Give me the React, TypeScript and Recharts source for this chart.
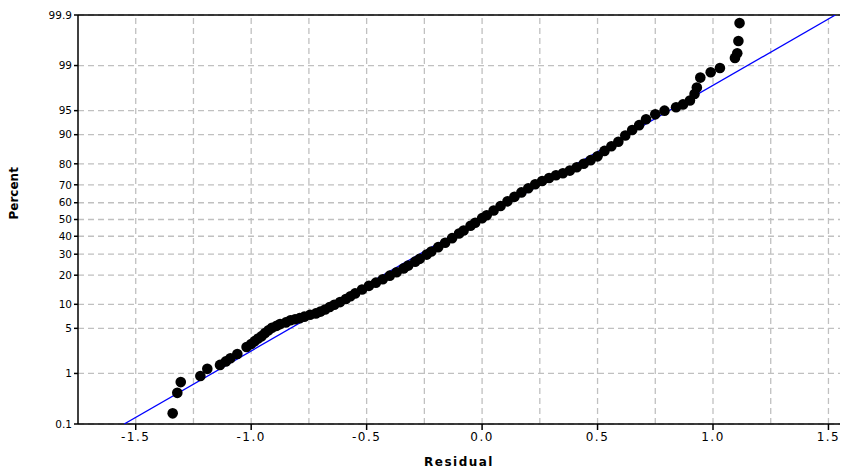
import React from 'react';
import { ScatterChart, Scatter, XAxis, YAxis, ReferenceLine } from 'recharts';

// residual / cumulative percent
const residuals = [
  -1.34, -1.32, -1.305, -1.22, -1.19, -1.135, -1.11, -1.09, -1.06, -1.02, -1.0, -0.985, -0.97, -0.955,
  -0.94, -0.925, -0.91, -0.89, -0.875, -0.85, -0.83, -0.81, -0.79, -0.77, -0.745, -0.72, -0.7, -0.68,
  -0.66, -0.64, -0.615, -0.59, -0.57, -0.55, -0.52, -0.49, -0.46, -0.43, -0.4, -0.37, -0.34, -0.32,
  -0.29, -0.27, -0.24, -0.22, -0.19, -0.16, -0.13, -0.1, -0.08, -0.05, -0.03, 0.0, 0.02, 0.05, 0.08,
  0.11, 0.14, 0.17, 0.2, 0.23, 0.26, 0.29, 0.32, 0.35, 0.38, 0.41, 0.44, 0.47, 0.5, 0.53, 0.56, 0.59,
  0.62, 0.65, 0.68, 0.71, 0.75, 0.79, 0.84, 0.87, 0.9, 0.92, 0.93, 0.945, 0.99, 1.03, 1.095, 1.105,
  1.11, 1.115,
];
const percents = [
  0.17, 0.44, 0.7, 0.9, 1.2, 1.4, 1.6, 1.8, 2.1, 2.7, 3.0, 3.3, 3.6, 3.9, 4.3, 4.7, 5.1, 5.4, 5.7,
  6.0, 6.4, 6.6, 6.8, 7.1, 7.5, 7.8, 8.2, 8.7, 9.3, 9.9, 10.6, 11.5, 12.3, 13.2, 14.5, 15.8, 17.0,
  18.3, 19.8, 21.3, 23.0, 24.3, 26.2, 27.6, 29.8, 31.4, 33.8, 36.3, 38.9, 41.6, 43.4, 46.2, 48.0,
  50.8, 52.6, 55.4, 58.1, 60.8, 63.4, 65.9, 68.2, 70.3, 72.0, 73.5, 74.8, 75.8, 77.0, 78.5, 80.0,
  81.5, 83.0, 85.0, 86.6, 88.0, 89.8, 91.2, 92.3, 93.5, 94.4, 95.0, 95.5, 95.9, 96.4, 97.1, 97.7,
  98.4, 98.7, 98.9, 99.27, 99.4, 99.65, 99.85,
];
const fitResiduals = [-1.55, 1.53];
const fitPercents = [0.1, 99.9];

const percentTicks = [0.1, 1, 5, 10, 20, 30, 40, 50, 60, 70, 80, 90, 95, 99, 99.9];
const residualTicks = [-1.5, -1.0, -0.5, 0.0, 0.5, 1.0, 1.5];
const residualGrid = [-1.5, -1.25, -1.0, -0.75, -0.5, -0.25, 0.0, 0.25, 0.5, 0.75, 1.0, 1.25, 1.5];

// inverse standard normal (Acklam) for the probability axis
function probit(pct: number) {
  const p = pct / 100;
  const a = [-39.6968302866538, 220.946098424521, -275.928510446969, 138.357751867269, -30.6647980661472, 2.50662827745924];
  const b = [-54.4760987982241, 161.585836858041, -155.698979859887, 66.8013118877197, -13.2806815528857];
  const c = [-0.00778489400243029, -0.322396458041136, -2.40075827716184, -2.54973253934373, 4.37466414146497, 2.93816398269878];
  const d = [0.00778469570904146, 0.32246712907004, 2.445134137143, 3.75440866190742];
  const pl = 0.02425;
  if (p < pl) {
    const q = Math.sqrt(-2 * Math.log(p));
    return (((((c[0] * q + c[1]) * q + c[2]) * q + c[3]) * q + c[4]) * q + c[5]) / ((((d[0] * q + d[1]) * q + d[2]) * q + d[3]) * q + 1);
  }
  if (p > 1 - pl) {
    const q = Math.sqrt(-2 * Math.log(1 - p));
    return -(((((c[0] * q + c[1]) * q + c[2]) * q + c[3]) * q + c[4]) * q + c[5]) / ((((d[0] * q + d[1]) * q + d[2]) * q + d[3]) * q + 1);
  }
  const q = p - 0.5;
  const r = q * q;
  return (((((a[0] * r + a[1]) * r + a[2]) * r + a[3]) * r + a[4]) * r + a[5]) * q / (((((b[0] * r + b[1]) * r + b[2]) * r + b[3]) * r + b[4]) * r + 1);
}

const points = residuals.map((x, i) => ({ x, z: probit(percents[i]) }));
const fitLine = fitResiduals.map((x, i) => ({ x, z: probit(fitPercents[i]) }));
const zTicks = percentTicks.map(probit);
const zMin = probit(0.1);
const zMax = probit(99.9);

const font = '"DejaVu Sans", Verdana, sans-serif';

const yTickFmt = (v: number) => {
  const idx = zTicks.findIndex((t) => Math.abs(t - v) < 1e-6);
  return idx >= 0 ? String(percentTicks[idx]) : '';
};

const Dot = (props: any) => <circle cx={props.cx} cy={props.cy} r={5.3} fill="#000" />;

export default function App() {
  return (
    <div style={{ position: 'absolute', left: 0, top: 0, background: '#fff' }}>
      <ScatterChart width={867} height={471} margin={{ top: 15, right: 27, left: 28, bottom: 17 }}>
        {residualGrid.map((v) => (
          <ReferenceLine key={'v' + v} x={v} stroke="#c0c0c0" strokeDasharray="6 4" strokeWidth={1.3} />
        ))}
        {zTicks.map((v, i) => (
          <ReferenceLine key={'h' + i} y={v} stroke="#c0c0c0" strokeDasharray="6 4" strokeWidth={1.3} />
        ))}
        <ReferenceLine y={zMax} stroke="#000" strokeWidth={1.5} />
        <XAxis
          type="number"
          dataKey="x"
          domain={[-1.75, 1.55]}
          ticks={residualTicks}
          tickFormatter={(v: number) => v.toFixed(1)}
          allowDataOverflow
          height={30}
          stroke="#000"
          strokeWidth={1.5}
          tickSize={6}
          tick={{ fill: '#000', fontSize: 12, fontFamily: font, letterSpacing: 1.5 }}
          label={{ value: 'Residual', position: 'insideBottom', offset: -12, fill: '#000', fontSize: 12, fontWeight: 'bold', fontFamily: font, letterSpacing: 1.5 }}
        />
        <YAxis
          type="number"
          dataKey="z"
          domain={[zMin, zMax]}
          ticks={zTicks}
          tickFormatter={yTickFmt}
          allowDataOverflow
          interval={0}
          width={50}
          stroke="#000"
          strokeWidth={1.5}
          tickSize={4}
          tick={{ fill: '#000', fontSize: 10.5, fontFamily: font }}
          label={{ value: 'Percent', angle: -90, position: 'insideLeft', offset: -14, fill: '#000', fontSize: 12, fontWeight: 'bold', fontFamily: font }}
        />
        <Scatter data={fitLine} line={{ stroke: '#0000ff', strokeWidth: 1.3 }} shape={() => null} isAnimationActive={false} />
        <Scatter data={points} shape={Dot} isAnimationActive={false} />
      </ScatterChart>
    </div>
  );
}
